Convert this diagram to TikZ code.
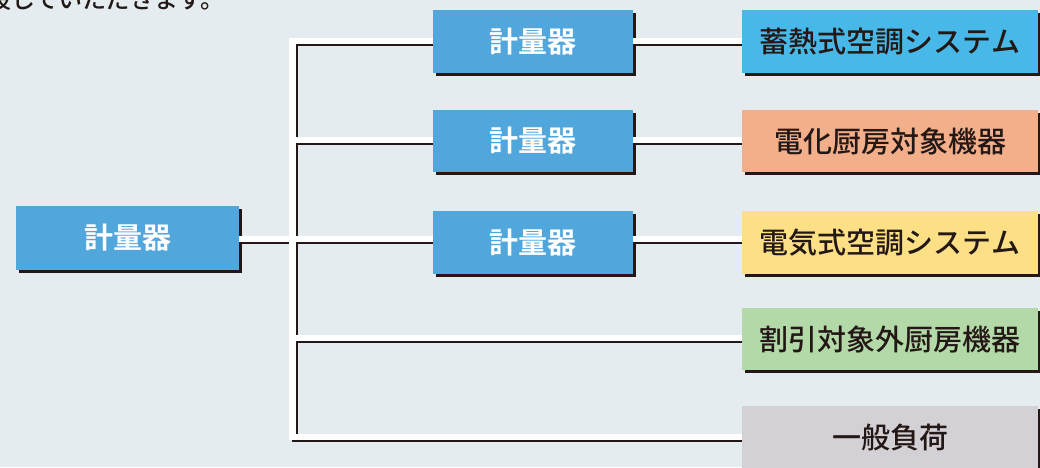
\documentclass[tikz,border=0pt]{standalone}
\usepackage{fontspec}
\setmainfont{Noto Sans CJK JP}[BoldFont={Noto Sans CJK JP Medium}]
\newfontfamily\heavy{Noto Sans CJK JP Bold}
\usetikzlibrary{shadows}
\definecolor{bgc}{HTML}{E4ECEF}
\definecolor{dk}{HTML}{231815}
\definecolor{mblue}{HTML}{51A6DC}
\definecolor{rblue}{HTML}{48B8E9}
\definecolor{rsalmon}{HTML}{F3AE8A}
\definecolor{ryellow}{HTML}{FDDF86}
\definecolor{rgreen}{HTML}{B3D9A9}
\definecolor{rgray}{HTML}{D3D1D6}
\tikzset{
  box/.style={rectangle, anchor=north west, inner sep=0pt, outer sep=0pt,
    drop shadow={shadow xshift=2.5pt, shadow yshift=-2.5pt, fill=dk, opacity=1}},
  meter/.style={box, fill=mblue, text=white, font=\fontsize{29}{30}\selectfont\heavy,
    minimum width=200pt, minimum height=63pt},
  load/.style={box, text=dk, font=\fontsize{29}{30}\selectfont\bfseries,
    minimum width=296pt, minimum height=63pt},
  wire/.style={draw=white, line width=6.5pt},
  shade/.style={draw=dk, line width=2.2pt, line join=miter},
}
\begin{document}
\begin{tikzpicture}[x=1pt,y=-1pt]
\useasboundingbox (0,0) rectangle (1040,467);
\fill[bgc] (0,0) rectangle (1040,467);
\node[anchor=base west, text=dk, font=\fontsize{24}{26}\selectfont\bfseries, inner sep=0pt] (top) at (-13,8) {設していただきます。};
% nodes
\node[meter, minimum width=223pt, minimum height=64pt] (m0) at (16,206) {計量器};
\node[meter] (m1) at (433,10) {計量器};
\node[meter, minimum height=62pt] (m2) at (433,110) {計量器};
\node[meter] (m3) at (433,211) {計量器};
\node[load, fill=rblue] (r1) at (742,10) {蓄熱式空調システム};
\node[load, fill=rsalmon, minimum height=62pt] (r2) at (742,110) {電化厨房対象機器};
\node[load, fill=ryellow] (r3) at (742,211) {電気式空調システム};
\node[load, fill=rgreen, minimum height=62pt] (r4) at (742,308) {割引対象外厨房機器};
\node[load, fill=rgray, minimum height=64pt] (r5) at (742,406) {一般負荷};
% bus coordinates
\coordinate (b1) at (292.5,41);
\coordinate (b2) at (292.5,140);
\coordinate (b3) at (292.5,239);
\coordinate (b4) at (292.5,338);
\coordinate (b5) at (292.5,437);
% white wires
\draw[wire, line cap=rect] (b1) -- (b5);
\draw[wire] (b1) -- (b1 -| m1.west);
\draw[wire] (b2) -- (b2 -| m2.west);
\draw[wire] (b3) -- (b3 -| m3.west);
\draw[wire] (b4) -- (b4 -| r4.west);
\draw[wire] (b5) -- (b5 -| r5.west);
\draw[wire] (b3 -| m0.east) -- (b3);
\draw[wire] (b1 -| m1.east) -- (b1 -| r1.west);
\draw[wire] (b2 -| m2.east) -- (b2 -| r2.west);
\draw[wire] (b3 -| m3.east) -- (b3 -| r3.west);
% dark shading lines
\draw[shade] ([shift={(4.4,-3.3)}]b2) -- ([shift={(4.4,4.3)}]b1) -- ([shift={(0,4.3)}]b1 -| m1.west);
\draw[shade] ([shift={(4.4,-3.3)}]b3) -- ([shift={(4.4,4.3)}]b2) -- ([shift={(0,4.3)}]b2 -| m2.west);
\draw[shade] ([shift={(4.4,-3.3)}]b4) -- ([shift={(4.4,4.3)}]b3) -- ([shift={(0,4.3)}]b3 -| m3.west);
\draw[shade] ([shift={(4.4,-3.3)}]b5) -- ([shift={(4.4,4.3)}]b4) -- ([shift={(0,4.3)}]b4 -| r4.west);
\draw[shade] ([shift={(-1,4.3)}]b5) -- ([shift={(0,4.3)}]b5 -| r5.west);
\draw[shade] ([shift={(2.5,4.3)}]b3 -| m0.east) -- ([shift={(-3.3,4.3)}]b3);
\draw[shade] ([shift={(2.5,4.3)}]b1 -| m1.east) -- ([shift={(0,4.3)}]b1 -| r1.west);
\draw[shade] ([shift={(2.5,4.3)}]b2 -| m2.east) -- ([shift={(0,4.3)}]b2 -| r2.west);
\draw[shade] ([shift={(2.5,4.3)}]b3 -| m3.east) -- ([shift={(0,4.3)}]b3 -| r3.west);
\end{tikzpicture}
\end{document}
